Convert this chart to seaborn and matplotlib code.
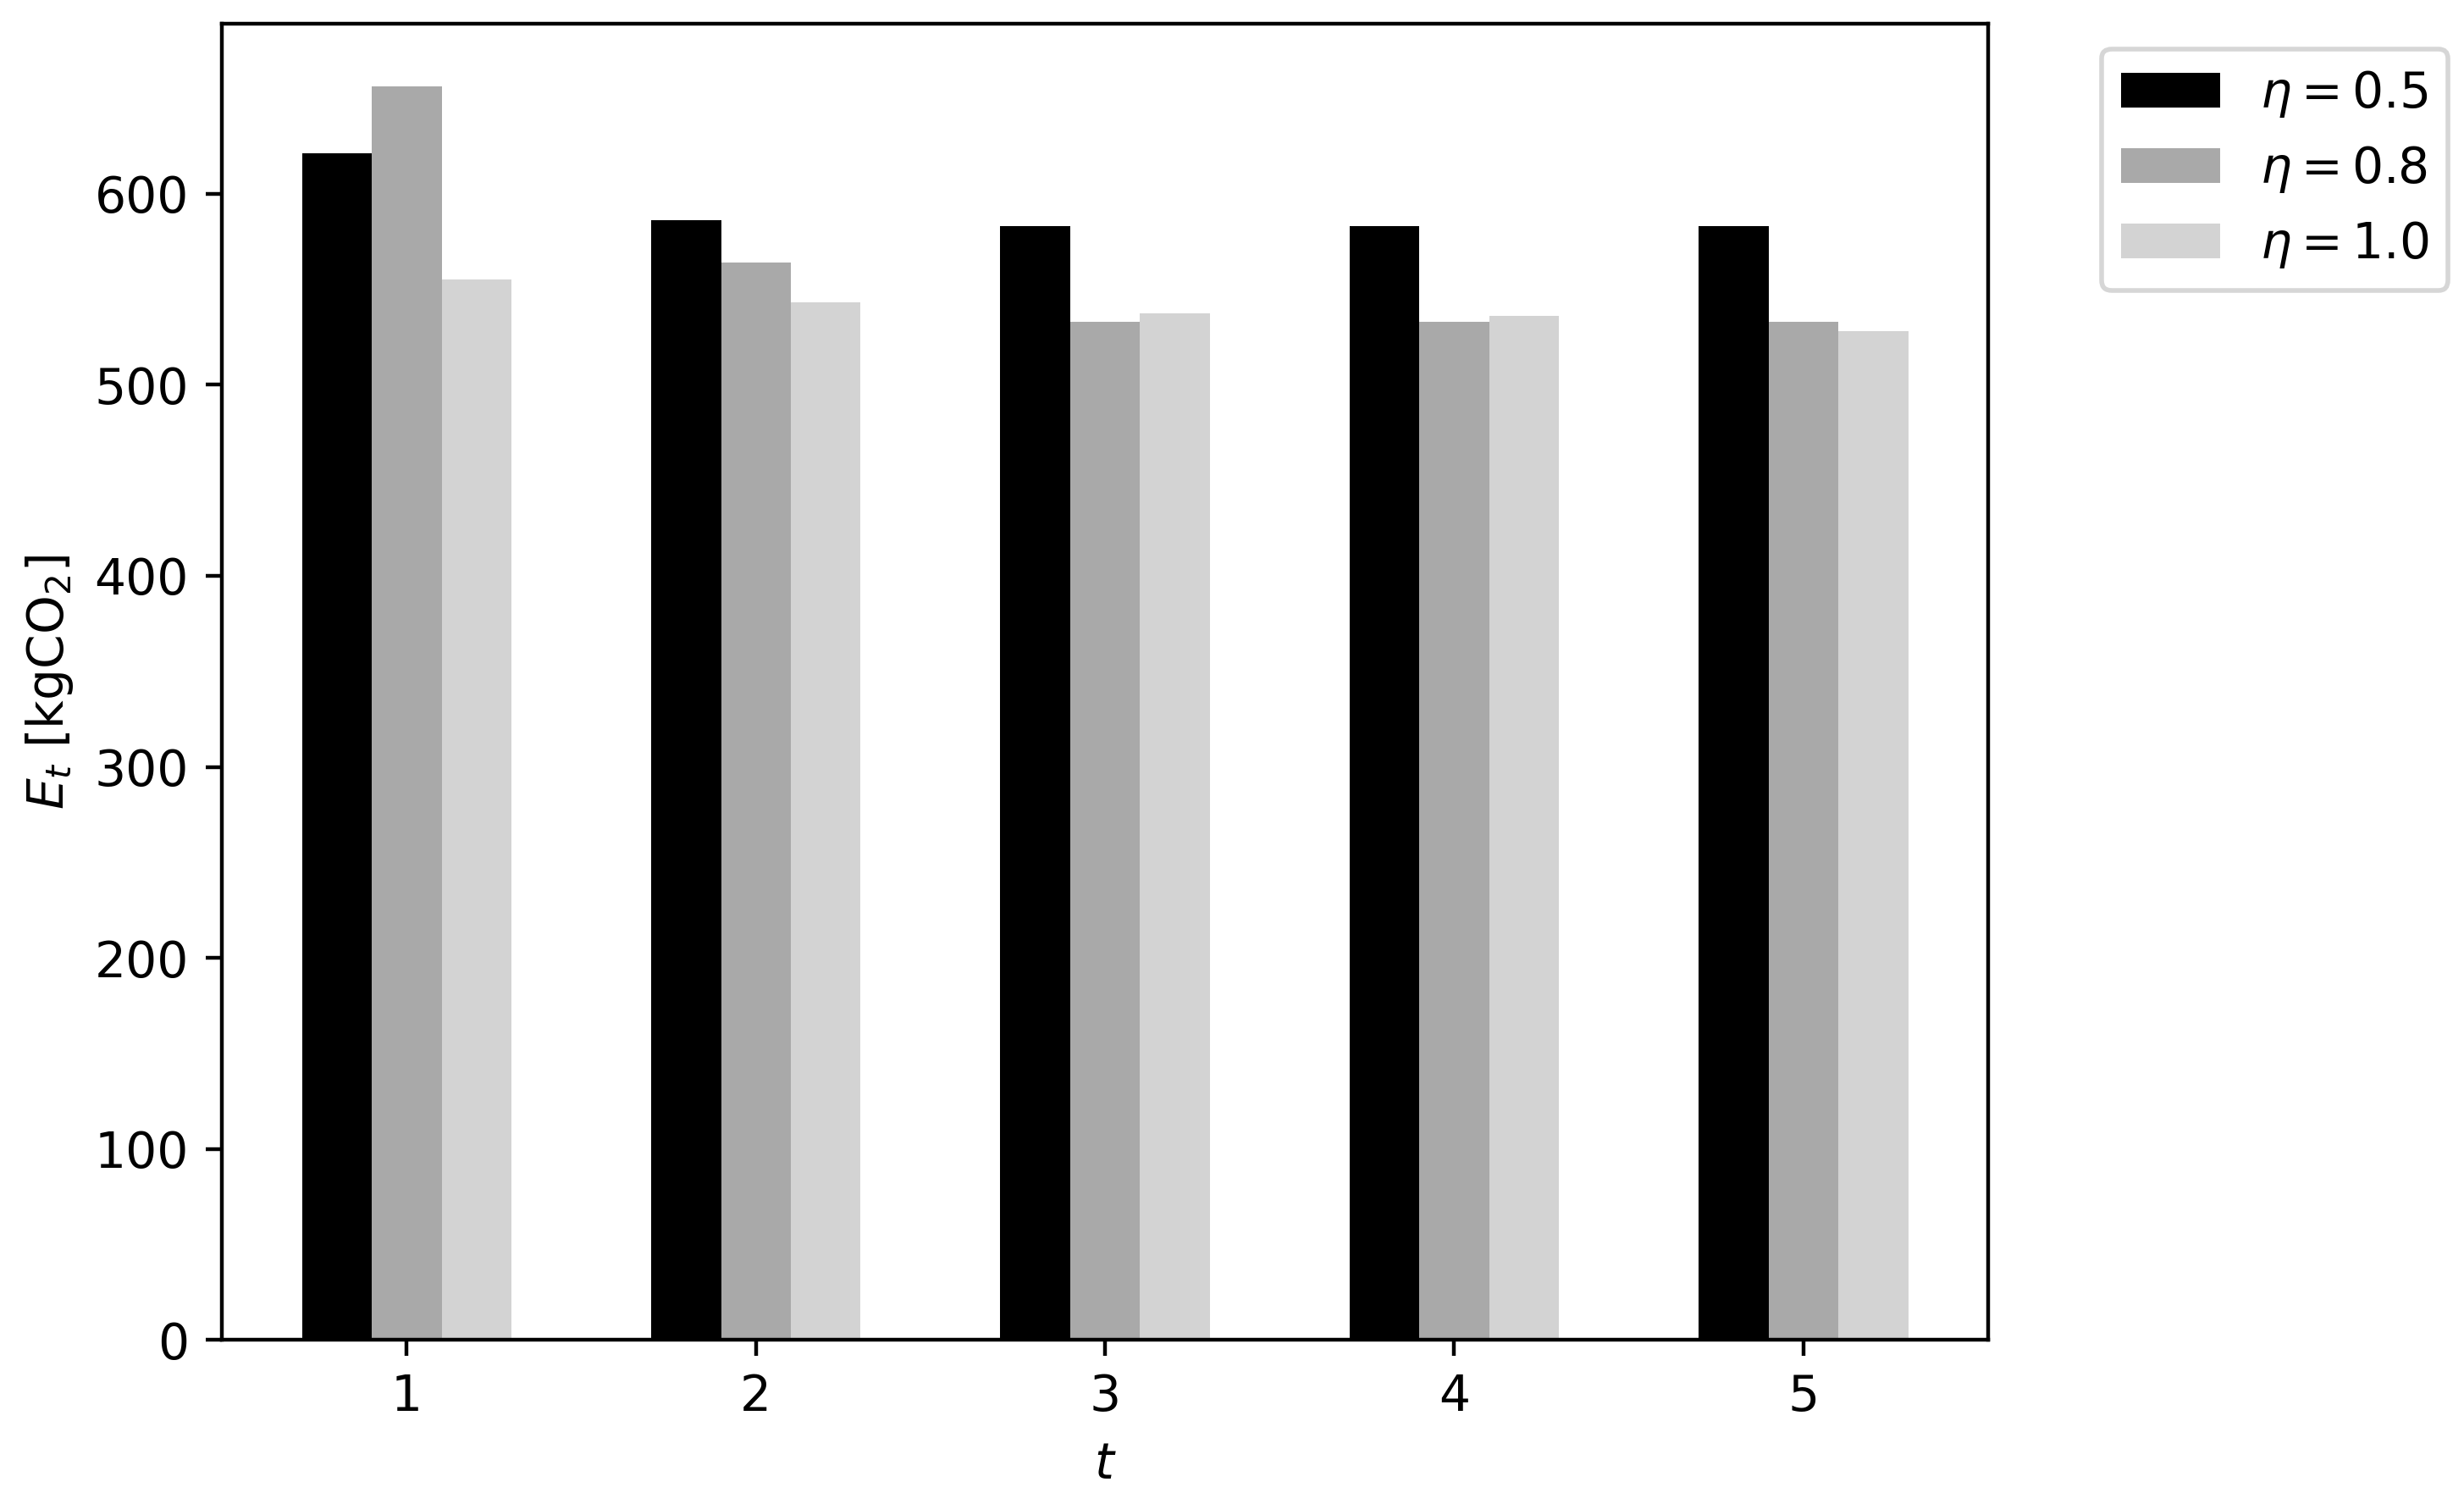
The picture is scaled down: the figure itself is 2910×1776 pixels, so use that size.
import pandas as pd
import matplotlib.pyplot as plt
import seaborn as sns


# Emissions per period for each efficiency level.
periods = [1, 2, 3, 4, 5]
eta_labels = [r"$\eta = 0.5$", r"$\eta = 0.8$", r"$\eta = 1.0$"]
e_eta05 = [621, 586, 583, 583, 583]
e_eta08 = [656, 564, 533, 533, 533]
e_eta10 = [555, 543, 537.5, 536, 528]
colors = ["black", "darkgray", "lightgray"]

df = pd.DataFrame(
    {
        "t": periods * 3,
        "E": e_eta05 + e_eta08 + e_eta10,
        "eta": [eta_labels[0]] * 5 + [eta_labels[1]] * 5 + [eta_labels[2]] * 5,
    }
)

fig, ax = plt.subplots(figsize=(7.275, 4.4401))
fig.subplots_adjust(left=0.090, right=0.807, bottom=0.109, top=0.984)

sns.barplot(
    data=df,
    x="t",
    y="E",
    hue="eta",
    hue_order=eta_labels,
    palette=colors,
    saturation=1,
    width=0.6,
    linewidth=0,
    ax=ax,
)

ax.set_xlim(-0.53, 4.53)
ax.set_xlabel("$t$", fontsize=10.5)
ax.set_ylabel(r"$E_t$ [kgCO$_2$]", fontsize=10.5)
ax.tick_params(labelsize=10.5)
ax.legend(bbox_to_anchor=(1.05, 1), loc="upper left", fontsize=10.5)

plt.savefig("out.png", dpi=400)
